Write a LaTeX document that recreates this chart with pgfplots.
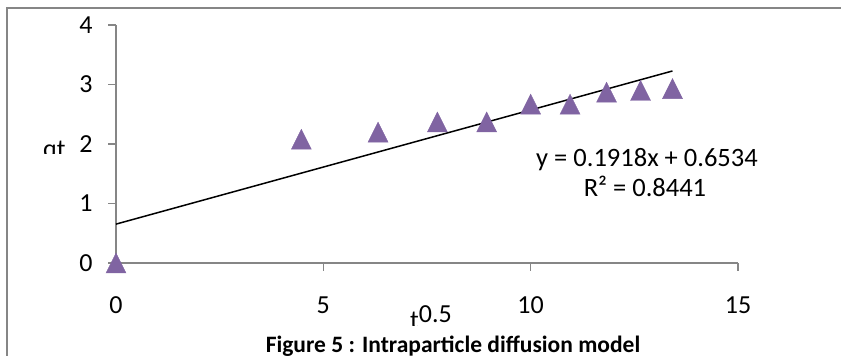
\documentclass[border=0pt]{standalone}
\usepackage{pgfplots}
\pgfplotsset{compat=1.18}
\usepackage{fontspec}
\setmainfont{Carlito}
\definecolor{xlpurple}{RGB}{128,100,162}
\definecolor{xlgray}{RGB}{134,134,134}
\pgfdeclareplotmark{xltri}{%
  \pgfpathmoveto{\pgfqpoint{-\pgfplotmarksize}{-\pgfplotmarksize}}%
  \pgfpathlineto{\pgfqpoint{\pgfplotmarksize}{-\pgfplotmarksize}}%
  \pgfpathlineto{\pgfqpoint{0pt}{\pgfplotmarksize}}%
  \pgfpathclose\pgfusepathqfillstroke}
\begin{document}
\begin{tikzpicture}[x=1pt,y=1pt]
\draw[xlgray, line width=2pt] (7,-5) -- (7,347.5) -- (845,347.5);
\begin{axis}[
  at={(116pt,93pt)}, anchor=south west,
  scale only axis, width=622pt, height=238pt,
  xmin=0, xmax=15, ymin=0, ymax=4,
  axis lines=left, axis line style={xlgray, line width=1.5pt, -},
  xtick={0,5,10,15}, ytick={0,1,2,3,4},
  tick align=outside, major tick length=8pt,
  tick style={xlgray, line width=1.5pt},
  every tick label/.append style={font=\fontsize{26}{31}\selectfont, text=black},
  /pgf/number format/assume math mode=true,
  xticklabel style={anchor=north, yshift=-22pt},
  yticklabel style={anchor=east, xshift=-12pt},
  clip=false,
]
\addplot[only marks, mark=xltri, mark size=10pt, color=xlpurple, mark options={fill=xlpurple, draw=xlpurple}] coordinates {
  (0,0) (4.47,2.08) (6.32,2.20) (7.75,2.37) (8.94,2.37) (10.0,2.67) (10.95,2.67) (11.83,2.87) (12.65,2.90) (13.42,2.93)
};
\addplot[black, line width=1.5pt] coordinates {(0,0.6534) (13.42,3.2274)};
\end{axis}
\node[anchor=base, font=\fontsize{26.5}{31}\selectfont] at (647,189) {y = 0.1918x + 0.6534};
\node[anchor=base, font=\fontsize{26.5}{31}\selectfont] at (645,159) {R² = 0.8441};
\begin{scope}
\clip (30,202) rectangle (90,240);
\node[anchor=base west, inner sep=0pt, font=\fontsize{26}{31}\selectfont] at (43,198) {qt};
\end{scope}
\begin{scope}
\clip (400,30) rectangle (480,70);
\node[anchor=base west, inner sep=0pt, font=\fontsize{26}{31}\selectfont] at (410,27) {t\raisebox{6pt}{0.5}};
\end{scope}
\node[anchor=base, font=\fontsize{23.5}{28}\selectfont\bfseries] at (453,3) {Figure 5 : Intraparticle diffusion model};
\pgfresetboundingbox
\useasboundingbox (0,0) rectangle (841,356);
\end{tikzpicture}
\end{document}
